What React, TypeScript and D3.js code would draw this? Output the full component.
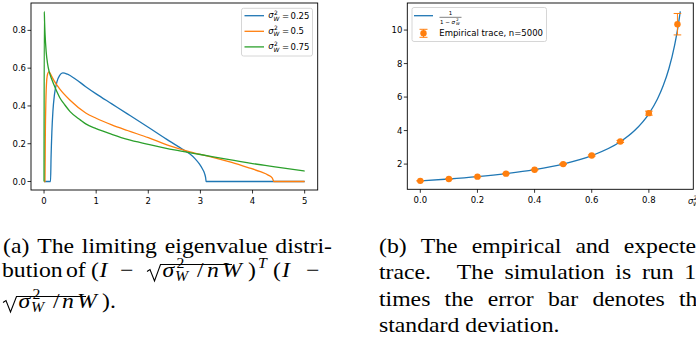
import { useLayoutEffect, useRef, useState } from "react";
import * as d3 from "d3";

// ---- panel (a): limiting eigenvalue densities
const sigmaLabels = ["0.25", "0.5", "0.75"];
const lineColors = ["#1f77b4", "#ff7f0e", "#2ca02c"];

const blueX = [0, 0.125, 0.135, 0.15, 0.17, 0.2, 0.25, 0.3, 0.36, 0.45, 0.6, 0.8, 1.0, 1.3, 1.6, 2.0, 2.4, 2.65, 2.8, 2.9, 2.98, 3.04, 3.08, 3.1, 3.11, 5];
const blueY = [0, 0, 0.13, 0.26, 0.37, 0.46, 0.53, 0.562, 0.575, 0.568, 0.543, 0.502, 0.464, 0.411, 0.358, 0.287, 0.215, 0.172, 0.145, 0.12, 0.093, 0.066, 0.042, 0.02, 0, 0];

const orangeX = [0, 0.018, 0.025, 0.035, 0.05, 0.07, 0.095, 0.15, 0.2, 0.3, 0.5, 0.8, 1.0, 1.3, 1.6, 2.0, 2.4, 2.8, 3.2, 3.6, 3.9, 4.15, 4.3, 4.38, 4.41, 5];
const orangeY = [0, 0, 0.25, 0.42, 0.53, 0.57, 0.58, 0.555, 0.53, 0.49, 0.43, 0.363, 0.335, 0.3, 0.27, 0.232, 0.19, 0.157, 0.131, 0.101, 0.075, 0.052, 0.034, 0.018, 0, 0];

const greenX = [0, 0.005, 0.01, 0.02, 0.04, 0.07, 0.1, 0.15, 0.2, 0.3, 0.4, 0.5, 0.7, 0.8, 1.0, 1.3, 1.6, 2.0, 2.5, 3.0, 3.5, 4.0, 4.5, 5.0];
const greenY = [0, 0.9, 0.85, 0.78, 0.69, 0.62, 0.58, 0.54, 0.505, 0.445, 0.405, 0.37, 0.325, 0.305, 0.28, 0.25, 0.223, 0.197, 0.167, 0.143, 0.118, 0.095, 0.075, 0.055];

const leftXTicks = [0, 1, 2, 3, 4, 5];
const leftYTicks = [0, 0.2, 0.4, 0.6, 0.8];

// ---- panel (b): expected 1/(1-sigma^2) and empirical trace
const sigmaGrid = [0, 0.1, 0.2, 0.3, 0.4, 0.5, 0.6, 0.7, 0.75, 0.8, 0.83, 0.85, 0.87, 0.89, 0.9, 0.91];
const expectedTrace = [1, 1.11, 1.25, 1.43, 1.67, 2, 2.5, 3.33, 4, 5, 5.88, 6.67, 7.69, 9.09, 10, 11.11];
const sigmaSim = [0, 0.1, 0.2, 0.3, 0.4, 0.5, 0.6, 0.7, 0.8, 0.9];
const traceMean = [1.0, 1.11, 1.25, 1.43, 1.66, 2.0, 2.51, 3.35, 5.04, 10.35];
const traceStd = [0, 0.01, 0.01, 0.02, 0.02, 0.03, 0.04, 0.06, 0.12, 0.64];
const rightXTicks = [0, 0.2, 0.4, 0.6, 0.8];
const rightYTicks = [2, 4, 6, 8, 10];

const sans = "'DejaVu Sans', sans-serif";
const serif = "'Liberation Serif', 'Times New Roman', serif";
const SX = 1.13; // captions look a bit wide
const CAP = 21;

// matplotlib style 5% margins
function padExtent(vals: number[]): [number, number] {
  const [lo, hi] = d3.extent(vals) as [number, number];
  const m = (hi - lo) * 0.05;
  return [lo - m, hi + m];
}

// justified caption line, sentence gaps get more stretch like TeX
function JustLine({ words, x0, x1, y, justify = true }: { words: string[]; x0: number; x1: number; y: number; justify?: boolean }) {
  const refs = useRef<(SVGTextElement | null)[]>([]);
  const [xs, setXs] = useState<number[] | null>(null);
  useLayoutEffect(() => {
    const w = refs.current.map((el) => (el ? el.getComputedTextLength() * SX : 0));
    const total = d3.sum(w);
    const weights = words.slice(0, -1).map((wd) => (wd.endsWith(".") ? 2.4 : 1));
    const unit = justify && words.length > 1 ? (x1 - x0 - total) / d3.sum(weights) : 0.25 * CAP * SX;
    let x = x0;
    const out: number[] = [];
    w.forEach((v, i) => {
      out.push(x);
      x += v + unit * (weights[i] ?? 1);
    });
    setXs(out);
  }, []);
  return (
    <g fontFamily={serif} fontSize={CAP}>
      {words.map((wd, i) => (
        <text key={i} ref={(el) => { refs.current[i] = el; }} transform={`translate(${xs ? xs[i] : x0 + i * 60},${y}) scale(${SX},1)`}>
          {wd}
        </text>
      ))}
    </g>
  );
}

// hand placed math token
function M({ x, y, t, it = false, size = CAP }: { x: number; y: number; t: string; it?: boolean; size?: number }) {
  return (
    <text transform={`translate(${x},${y}) scale(${SX},1)`} fontFamily={serif} fontSize={size} fontStyle={it ? "italic" : "normal"}>
      {t}
    </text>
  );
}

function SigmaW({ x, y, size = 8.5 }: { x: number; y: number; size?: number }) {
  const s = size * 0.7;
  return (
    <g fontFamily={sans}>
      <text x={x} y={y} fontSize={size} fontStyle="italic">σ</text>
      <text x={x + size * 0.66} y={y - size * 0.42} fontSize={s}>2</text>
      <text x={x + size * 0.6} y={y + size * 0.28} fontSize={s} fontStyle="italic">W</text>
    </g>
  );
}

export default function App() {
  // panel (a)
  const ax = d3.scaleLinear().domain(padExtent([...blueX, ...orangeX, ...greenX])).range([31, 317.7]);
  const ay = d3.scaleLinear().domain(padExtent([...blueY, ...orangeY, ...greenY])).range([190, 3]);
  const aLine = d3.line<[number, number]>().x((d) => ax(d[0])).y((d) => ay(d[1])).curve(d3.curveMonotoneX);
  const series: [number[], number[]][] = [[blueX, blueY], [orangeX, orangeY], [greenX, greenY]];

  // panel (b)
  const bx = d3.scaleLinear().domain(padExtent(sigmaGrid)).range([407.3, 693.3]);
  const by = d3.scaleLinear()
    .domain(padExtent([...expectedTrace, ...traceMean.map((m, i) => m + traceStd[i]), ...traceMean.map((m, i) => m - traceStd[i])]))
    .range([189.3, 3]);
  const bLine = d3.line<number>().x((_, i) => bx(sigmaGrid[i])).y((d) => by(d)).curve(d3.curveMonotoneX);

  const [ax0, ax1] = ax.range();
  const [ay0, ay1] = ay.range();
  const [bx0, bx1] = bx.range();
  const [by0, by1] = by.range();

  return (
    <svg width={696} height={337} style={{ position: "absolute", left: 0, top: 0, display: "block", background: "#fff" }}>
      {/* ----- panel (a) ----- */}
      <g fill="none" strokeWidth={1.3}>
        {series.map(([xs, ys], k) => (
          <path key={k} d={aLine(xs.map((x, i) => [x, ys[i]] as [number, number])) || ""} stroke={lineColors[k]} />
        ))}
      </g>
      <rect x={ax0} y={ay1} width={ax1 - ax0} height={ay0 - ay1} fill="none" stroke="#000" strokeWidth={0.9} />
      <g fontFamily={sans} fontSize={8.5} fill="#000">
        {leftXTicks.map((t) => (
          <g key={t}>
            <line x1={ax(t)} x2={ax(t)} y1={ay0} y2={ay0 + 3.5} stroke="#000" strokeWidth={0.8} />
            <text x={ax(t)} y={ay0 + 13.5} textAnchor="middle">{d3.format("d")(t)}</text>
          </g>
        ))}
        {leftYTicks.map((t) => (
          <g key={t}>
            <line x1={ax0 - 3.5} x2={ax0} y1={ay(t)} y2={ay(t)} stroke="#000" strokeWidth={0.8} />
            <text x={ax0 - 5} y={ay(t) + 3} textAnchor="end">{d3.format(".1f")(t)}</text>
          </g>
        ))}
      </g>
      {/* legend (a) */}
      <rect x={241.5} y={8.3} width={71} height={47.7} rx={2} fill="#fff" fillOpacity={0.8} stroke="#ccc" strokeWidth={0.8} />
      {sigmaLabels.map((lab, i) => {
        const cy = 15.7 + i * 15.6;
        return (
          <g key={lab}>
            <line x1={244.5} x2={264} y1={cy} y2={cy} stroke={lineColors[i]} strokeWidth={1.3} />
            <SigmaW x={268.3} y={cy + 2.5} />
            <text x={282} y={cy + 3} fontFamily={sans} fontSize={8.5}>=</text>
            <text x={290.5} y={cy + 3} fontFamily={sans} fontSize={8.5}>{lab}</text>
          </g>
        );
      })}

      {/* ----- panel (b) ----- */}
      <path d={bLine(expectedTrace) || ""} fill="none" stroke={lineColors[0]} strokeWidth={1.3} />
      <g stroke={lineColors[1]} strokeWidth={1}>
        {sigmaSim.map((s, i) => {
          const x = bx(s);
          const lo = by(traceMean[i] - traceStd[i]);
          const hi = by(traceMean[i] + traceStd[i]);
          return (
            <g key={s}>
              <line x1={x} x2={x} y1={lo} y2={hi} />
              <line x1={x - 3.8} x2={x + 3.8} y1={lo} y2={lo} />
              <line x1={x - 3.8} x2={x + 3.8} y1={hi} y2={hi} />
              <circle cx={x} cy={by(traceMean[i])} r={3.2} fill={lineColors[1]} stroke="none" />
            </g>
          );
        })}
      </g>
      <rect x={bx0} y={by1} width={bx1 - bx0} height={by0 - by1} fill="none" stroke="#000" strokeWidth={0.9} />
      <g fontFamily={sans} fontSize={8.5} fill="#000">
        {rightXTicks.map((t) => (
          <g key={t}>
            <line x1={bx(t)} x2={bx(t)} y1={by0} y2={by0 + 3.5} stroke="#000" strokeWidth={0.8} />
            <text x={bx(t)} y={by0 + 13.8} textAnchor="middle">{d3.format(".1f")(t)}</text>
          </g>
        ))}
        {rightYTicks.map((t) => (
          <g key={t}>
            <line x1={bx0 - 3.5} x2={bx0} y1={by(t)} y2={by(t)} stroke="#000" strokeWidth={0.8} />
            <text x={bx0 - 5} y={by(t) + 3} textAnchor="end">{t}</text>
          </g>
        ))}
      </g>
      <SigmaW x={688} y={203.5} />
      {/* legend (b) */}
      <rect x={412} y={7.5} width={134.5} height={34} rx={2} fill="#fff" fillOpacity={0.8} stroke="#ccc" strokeWidth={0.8} />
      <line x1={414} x2={433} y1={15.7} y2={15.7} stroke={lineColors[0]} strokeWidth={1.3} />
      <g fontFamily={sans} fontSize={5.5}>
        <text x={450.5} y={15.3} textAnchor="middle">1</text>
        <line x1={439.5} x2={461.5} y1={17.3} y2={17.3} stroke="#000" strokeWidth={0.5} />
        <text x={440} y={23.6}>1 − <tspan fontStyle="italic">σ</tspan></text>
        <text x={456.3} y={21.4} fontSize={3.8}>2</text>
        <text x={456} y={24.8} fontSize={3.8} fontStyle="italic">W</text>
      </g>
      <g stroke={lineColors[1]} strokeWidth={1}>
        <line x1={423.5} x2={423.5} y1={29.3} y2={37.3} />
        <line x1={419.5} x2={427.5} y1={29.3} y2={29.3} />
        <line x1={419.5} x2={427.5} y1={37.3} y2={37.3} />
        <circle cx={423.5} cy={33.3} r={3.2} fill={lineColors[1]} stroke="none" />
      </g>
      <text x={439.3} y={36.3} fontFamily={sans} fontSize={8.5}>Empirical trace, n=5000</text>

      {/* ----- caption (a) ----- */}
      <JustLine words={["(a)", "The", "limiting", "eigenvalue", "distri-"]} x0={3} x1={332} y={252.5} />
      <M x={2} y={276.5} t="bution" />
      <M x={66} y={276.5} t="of" />
      <M x={91} y={276.5} t="(" />
      <M x={99.5} y={276.5} t="I" it />
      <M x={120} y={276.5} t="−" />
      <path d="M147,271.5 L150,269.5 L154.5,281 L160.5,264.5 H232" fill="none" stroke="#000" strokeWidth={1.1} />
      <M x={162.5} y={276.5} t="σ" it />
      <M x={176.5} y={268} t="2" size={14} />
      <M x={175} y={281} t="W" it size={14} />
      <M x={197} y={276.5} t="/" />
      <M x={207} y={276.5} t="n" it />
      <M x={222} y={276.5} t="W" it />
      <M x={248} y={276.5} t=")" />
      <M x={258} y={268} t="T" it size={14} />
      <M x={273} y={276.5} t="(" />
      <M x={282} y={276.5} t="I" it />
      <M x={306} y={276.5} t="−" />
      <path d="M3,302.5 L6,300.5 L10.5,312 L16.5,296.5 H86" fill="none" stroke="#000" strokeWidth={1.1} />
      <M x={18.5} y={307.5} t="σ" it />
      <M x={32.5} y={299} t="2" size={14} />
      <M x={31} y={312} t="W" it size={14} />
      <M x={53} y={307.5} t="/" />
      <M x={62} y={307.5} t="n" it />
      <M x={77} y={307.5} t="W" it />
      <M x={102} y={307.5} t=")." />

      {/* ----- caption (b), runs past the right edge ----- */}
      <JustLine words={["(b)", "The", "empirical", "and", "expected"]} x0={379} x1={708} y={252.5} />
      <JustLine words={["trace.", "The", "simulation", "is", "run", "10"]} x0={379} x1={708} y={279} />
      <JustLine words={["times", "the", "error", "bar", "denotes", "the"]} x0={379} x1={708} y={305.5} />
      <JustLine words={["standard", "deviation."]} x0={379} x1={708} y={332} justify={false} />
    </svg>
  );
}
